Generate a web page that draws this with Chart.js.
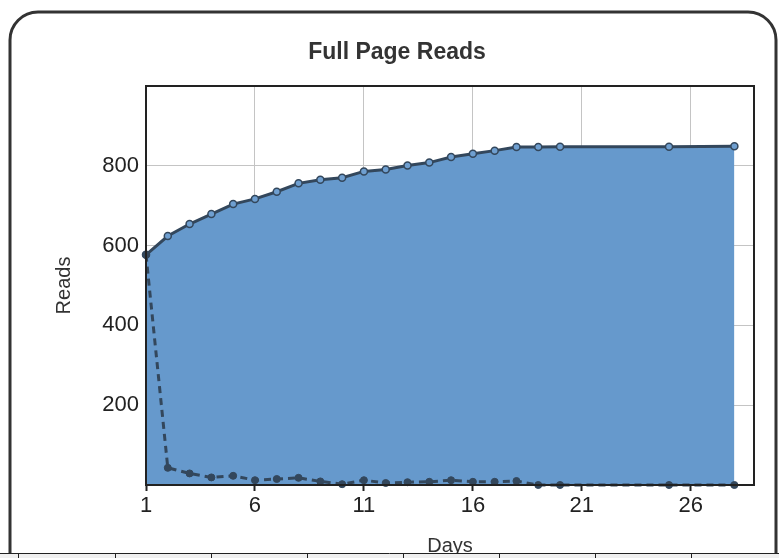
<!DOCTYPE html>
<html>
<head>
<meta charset="utf-8">
<script src="https://cdn.jsdelivr.net/npm/chart.js@4/dist/chart.umd.min.js"></script>
<style>
  html, body { margin: 0; padding: 0; background: #fff; }
  canvas { display: block; }
</style>
</head>
<body>
<canvas id="reads" width="779" height="558"></canvas>
<script>
// days that have a reading (21-24, 26-27 missing)
const days = [1, 2, 3, 4, 5, 6, 7, 8, 9, 10, 11, 12, 13, 14, 15, 16, 17, 18, 19, 20, 25, 28]
const totalReads = [577, 624, 654, 679, 704, 717, 735, 756, 765, 770, 786, 791, 801, 808, 822, 830, 838, 847, 847, 848, 848, 849]
const dailyReads = [577, 43, 29, 19, 23, 12, 15, 18, 9, 2, 12, 5, 7, 8, 12, 8, 8, 10, 0, 0, 0, 0]
const xTicks = [1, 6, 11, 16, 21, 26]
const yTicks = [200, 400, 600, 800]

const toPoints = vals => days.map((d, i) => ({ x: d, y: vals[i] }))

const lineColor = '#33475c'
const fillColor = '#6699cc'
const font = 'Liberation Sans, Arial, sans-serif'

// plot border + outer rounded frame + the table edge at the bottom
const decorations = {
    id: 'decorations',
    afterDatasetsDraw (chart) {
        const { ctx, chartArea: a } = chart
        ctx.save()
        ctx.strokeStyle = '#222'
        ctx.lineWidth = 2
        ctx.strokeRect(a.left, a.top, a.right - a.left, a.bottom - a.top)
        ctx.restore()
    },
    afterDraw (chart) {
        const { ctx } = chart
        ctx.save()
        ctx.strokeStyle = '#333'
        ctx.lineWidth = 3
        const r = 28, l = 10, t = 12, rt = 776, b = 553
        ctx.beginPath()
        ctx.moveTo(l, b)
        ctx.lineTo(l, t + r)
        ctx.arcTo(l, t, l + r, t, r)
        ctx.lineTo(rt - r, t)
        ctx.arcTo(rt, t, rt, t + r, r)
        ctx.lineTo(rt, b)
        ctx.stroke()
        ctx.fillStyle = '#f0f0f0'
        ctx.fillRect(0, 554, 779, 4)
        ctx.strokeStyle = '#222'
        ctx.lineWidth = 1
        ctx.beginPath()
        ctx.moveTo(0, 553.5)
        ctx.lineTo(779, 553.5)
        ;[18, 115, 211, 307, 403, 499, 595, 691].forEach(x => {
            ctx.moveTo(x + 0.5, 553)
            ctx.lineTo(x + 0.5, 558)
        })
        ctx.stroke()
        ctx.restore()
    }
}

new Chart(document.getElementById('reads').getContext('2d'), {
    type: 'line',
    data: {
        datasets: [
            {
                label: 'Daily',
                data: toPoints(dailyReads),
                borderColor: lineColor,
                borderWidth: 3,
                borderDash: [7, 5],
                pointRadius: 3.5,
                pointBackgroundColor: lineColor,
                pointBorderColor: lineColor,
                pointBorderWidth: 1,
                fill: false,
                tension: 0,
                clip: false
            },
            {
                label: 'Total',
                data: toPoints(totalReads),
                borderColor: lineColor,
                borderWidth: 3,
                pointRadius: 3.5,
                pointBackgroundColor: '#6f9fd0',
                pointBorderColor: lineColor,
                pointBorderWidth: 1.5,
                backgroundColor: fillColor,
                fill: 'origin',
                tension: 0,
                clip: false
            }
        ]
    },
    options: {
        responsive: false,
        animation: false,
        layout: { padding: { left: 40, right: 25, top: 0, bottom: 0 } },
        plugins: {
            legend: { display: false },
            tooltip: { enabled: false },
            filler: { drawTime: 'beforeDatasetsDraw' },
            title: {
                display: true,
                text: 'Full Page Reads',
                color: '#333',
                font: { family: font, size: 23, weight: 'bold', lineHeight: 1.2 },
                padding: { top: 39, bottom: 19.4 }
            }
        },
        scales: {
            x: {
                type: 'linear',
                min: 1,
                max: 28.9,
                afterBuildTicks: s => { s.ticks = xTicks.map(v => ({ value: v })) },
                afterFit: s => { s.height = 73 },
                border: { display: false },
                grid: { color: '#c4c4c4', lineWidth: 1, tickColor: '#222', tickLength: 6, tickWidth: 2 },
                ticks: { color: '#222', padding: 2, maxRotation: 0, font: { family: font, size: 22 } },
                title: {
                    display: true,
                    text: 'Days',
                    color: '#333',
                    padding: { top: 4, bottom: 0 },
                    font: { family: font, size: 20, lineHeight: 1.2 }
                }
            },
            y: {
                min: 0,
                max: 1000,
                afterBuildTicks: s => { s.ticks = yTicks.map(v => ({ value: v })) },
                afterFit: s => { s.width = 106 },
                border: { display: false },
                grid: { color: '#c4c4c4', lineWidth: 1, drawTicks: false },
                ticks: { color: '#222', padding: 7, font: { family: font, size: 22 } },
                title: {
                    display: true,
                    text: 'Reads',
                    color: '#333',
                    padding: { top: 12, bottom: 0 },
                    font: { family: font, size: 20, lineHeight: 1.2 }
                }
            }
        }
    },
    plugins: [decorations]
})
</script>
</body>
</html>
